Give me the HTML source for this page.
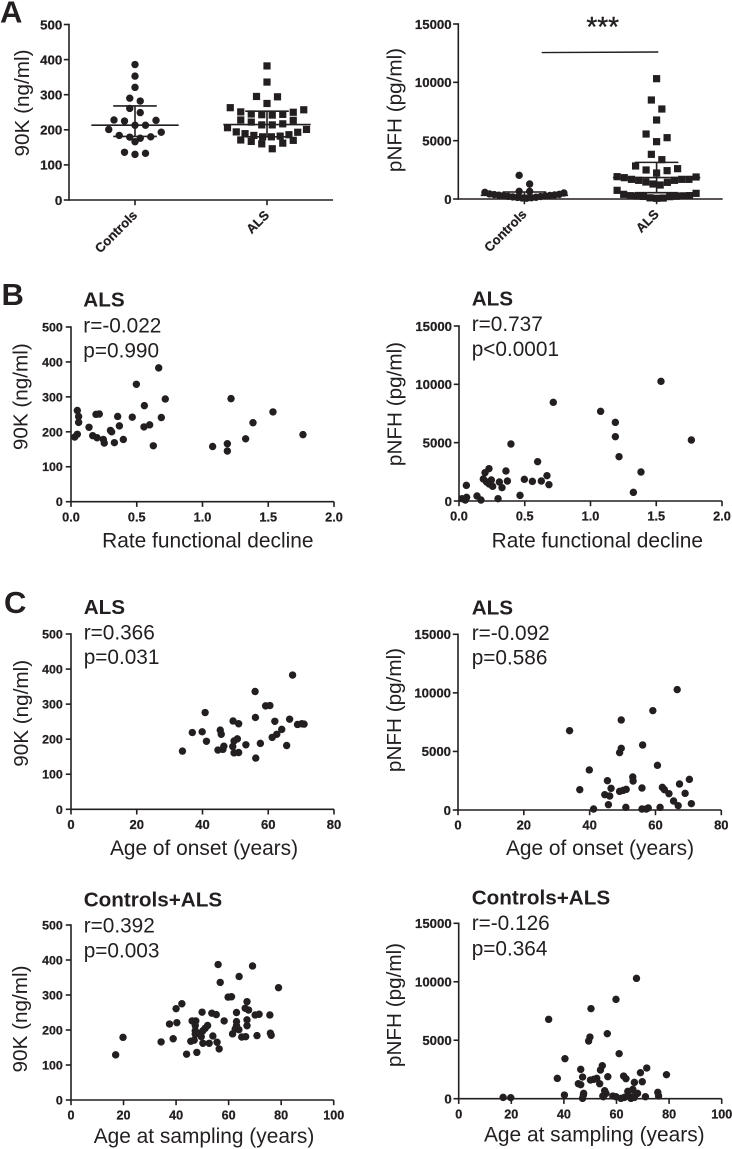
<!DOCTYPE html>
<html lang="en">
<head>
<meta charset="utf-8">
<title>90K and pNFH in controls and ALS</title>
<style>
html,body{margin:0;padding:0;background:#fff;}
svg{display:block;font-family:"Liberation Sans",Arial,sans-serif;fill:#231f20;}
.yt{font-size:20.7px;}
.xt{font-size:20.9px;}
.ttl{font-size:20.7px;font-weight:bold;}
.st{font-size:20.8px;}
.pl{font-size:31px;font-weight:bold;}
</style>
</head>
<body>
<svg id="figure" width="732" height="1149" viewBox="0 0 732 1149" xmlns="http://www.w3.org/2000/svg">
<rect width="732" height="1149" fill="#fff"/>

<text class="pl" x="0" y="22.7">A</text>
<text class="pl" x="1.5" y="305">B</text>
<text class="pl" x="4" y="613">C</text>

<g id="a-left">
  <text class="yt" transform="translate(29,103) rotate(-90)" text-anchor="middle">90K (ng/ml)</text>
</g>
<g id="a-right">
  <text class="yt" transform="translate(401.7,110) rotate(-90)" text-anchor="middle">pNFH (pg/ml)</text>
  <line x1="541.7" y1="52.6" x2="658.3" y2="52" stroke="#231f20" stroke-width="1.4"/>
  <text x="602.7" y="36" text-anchor="middle" font-size="28" stroke="#231f20" stroke-width="0.4">***</text>
</g>

<g id="b-left">
  <text class="ttl" x="83.3" y="306.7">ALS</text>
  <text class="st" x="83.3" y="332.3">r=-0.022</text>
  <text class="st" x="83.3" y="357.3">p=0.990</text>
  <text class="yt" transform="translate(27.5,396.7) rotate(-90)" text-anchor="middle">90K (ng/ml)</text>
  <text class="xt" x="207.8" y="547.3" text-anchor="middle">Rate functional decline</text>
</g>
<g id="b-right">
  <text class="ttl" x="471.7" y="305.3">ALS</text>
  <text class="st" x="471.7" y="331">r=0.737</text>
  <text class="st" x="471.7" y="356">p&lt;0.0001</text>
  <text class="yt" transform="translate(401.7,404) rotate(-90)" text-anchor="middle">pNFH (pg/ml)</text>
  <text class="xt" x="597.3" y="547.3" text-anchor="middle">Rate functional decline</text>
</g>

<g id="c-left">
  <text class="ttl" x="83.7" y="614">ALS</text>
  <text class="st" x="83.7" y="639.3">r=0.366</text>
  <text class="st" x="83.7" y="664">p=0.031</text>
  <text class="yt" transform="translate(28,713.3) rotate(-90)" text-anchor="middle">90K (ng/ml)</text>
  <text class="xt" x="204" y="855" text-anchor="middle">Age of onset (years)</text>
</g>
<g id="c-right">
  <text class="ttl" x="471.7" y="614.7">ALS</text>
  <text class="st" x="471.7" y="640">r=-0.092</text>
  <text class="st" x="471.7" y="664.7">p=0.586</text>
  <text class="yt" transform="translate(401,710) rotate(-90)" text-anchor="middle">pNFH (pg/ml)</text>
  <text class="xt" x="600" y="855" text-anchor="middle">Age of onset (years)</text>
</g>

<g id="d-left">
  <text class="ttl" x="83.7" y="906.7">Controls+ALS</text>
  <text class="st" x="83.7" y="932.3">r=0.392</text>
  <text class="st" x="83.7" y="957.3">p=0.003</text>
  <text class="yt" transform="translate(27,1019) rotate(-90)" text-anchor="middle">90K (ng/ml)</text>
  <text class="xt" x="204" y="1143" text-anchor="middle">Age at sampling (years)</text>
</g>
<g id="d-right">
  <text class="ttl" x="471.7" y="904.7">Controls+ALS</text>
  <text class="st" x="471.7" y="930">r=-0.126</text>
  <text class="st" x="471.7" y="955.3">p=0.364</text>
  <text class="yt" transform="translate(401,1005) rotate(-90)" text-anchor="middle">pNFH (pg/ml)</text>
  <text class="xt" x="594.3" y="1141.7" text-anchor="middle">Age at sampling (years)</text>
</g>
</svg>

<script>
/* ---------- tick labels ---------- */
const tick90K = ['0','100','200','300','400','500'];
const tickPNFH = ['0','5000','10000','15000'];
const tickDecline = ['0.0','0.5','1.0','1.5','2.0'];
const tickOnset = ['0','20','40','60','80'];
const tickSampling = ['0','20','40','60','80','100'];
const groupLabels = ['Controls','ALS'];

/* ---------- panel A: group values, value bins and summary bars ---------- */
const controls90K = [386,353,321,290,282,261,249,228,227,225,213,213,201,193,184,180,179,176,166,136,133,130];
const als90K = [382,336,295,294,275,263,257,251,250,245,244,243,242,228,227,222,217,214,214,206,201,194,193,189,186,184,182,180,180,170,171,167,162,160,146];
const controlsPNFH = [2030,1286,657,657,571,514,430,400,380,350,330,300,280,260,230,210,180,150,130,110,90,60];
const alsPNFH = [10314,8486,7714,6771,5571,5257,4914,3829,3371,2829,2486,2429,2600,2229,1886,1914,1829,1686,1600,1686,1686,1600,1457,1429,1286,1200,743,486,400,286,290,270,250,240,220,200,100,80,60];
const bins90K = [110,143,176,209,242,275,308,341,374];
const binsControlsPNFH = [600,1200,2500];
const binsAlsPNFH = [790,2080,3370,4660,5950,7240,8530];
const summary90KMean = [213,215];
const summary90KLow = [181,180];
const summary90KHigh = [268,253];
const summaryPNFHMean = [315,1840];
const summaryPNFHLow = [100,540];
const summaryPNFHHigh = [600,3140];

/* ---------- panel B ---------- */
const bLeftRate = [.667,.497,.717,1.217,.558,.048,.19,.215,.058,.355,.466,.687,.058,1.384,1.536,.137,.368,.555,.598,.30,.309,.048,1.764,.028,.165,.198,.246,.398,1.328,.253,.33,.626,1.077,1.189,1.189];
const bLeft90K = [383,336,294,295,275,261,250,251,244,244,242,241,227,226,257,213,217,214,220,204,200,193,192,185,189,183,178,178,180,168,169,160,158,166,145];
const bRightRate = [1.536,.717,1.077,1.189,1.189,1.767,.395,1.217,.598,.228,.198,.357,1.384,.669,.185,.246,.497,.558,.626,.307,.368,.21,.23,.256,.327,.684,.056,.137,.464,1.326,.058,.023,.048,.167,.297];
const bRightPNFH = [10257,8457,7686,6743,5514,5229,4886,3800,3371,2771,2429,2571,2486,2171,1886,1800,1857,1686,1714,1629,1714,1629,1457,1257,1143,1400,1343,429,486,743,314,200,86,86,200];

/* ---------- panel C, age of onset ---------- */
const cLeftOnset = [67.4,56,59.2,60.5,40.8,56.1,66.5,49.3,62,51,68.9,70.2,70.9,45.4,64.1,36.9,39.9,45.7,62.6,61.2,50.6,41.2,49.6,53.2,57.6,65.6,46.5,49.2,44.7,46.2,33.9,49.6,51,56.2];
const cLeft90K = [383,336,295,296,276,262,257,252,251,244,242,244,243,226,228,219,221,214,214,205,201,194,195,184,188,182,180,179,169,171,166,161,162,146];
const cRightOnset = [66.6,59.2,49.6,33.9,56.1,49.6,49.1,60.6,39.9,53.1,53.2,45.4,70.3,67.3,37,46.5,55.9,62.1,62.7,51.1,50.2,49.1,64.1,69,44.6,46.1,65.5,45.7,70.9,66.9,51,61.4,57.8,55.9,57.2,41.2];
const cRightPNFH = [10276,8482,7686,6775,5551,5266,4896,3814,3416,2818,2476,2505,2619,2220,1736,1850,1879,1936,1736,1765,1679,1594,1395,1423,1309,1196,769,455,541,370,228,228,171,85,85,85];

/* ---------- panel C, age at sampling ---------- */
const dLeftAge = [17,19.8,34.3,38.9,37.5,40.3,40,42.2,44,47.9,49.9,53.6,55.3,56,56.8,58.3,59.8,61.1,63,64,69.1,79,67,66.3,67.6,70.1,71.6,75.7,67,67,63,63,62.5,63.9,61.5,65,66.5,70.8,75.9,76.2,46.1,47.5,47.3,52,51.1,50.2,47.3,49.2,47.3,49.6,54,45.6,46.9,50.2,52.6,55.6,56.4];
const dLeft90K = [129,179,166,175,217,221,261,275,131,136,251,248,244,387,336,226,294,295,250,353,383,321,281,262,257,243,245,243,229,212,224,212,203,201,189,180,181,184,191,185,226,226,213,213,205,198,198,190,188,181,183,168,171,162,162,165,146];
const dRightAge = [67.6,59.8,50.3,34.2,56.5,49.9,49.4,61,40.4,54.6,53.9,46.4,71.5,69.1,79,37.5,47.1,56.7,62.7,63.6,52.5,51.3,50.1,53.6,45.5,46.4,69.8,66.8,66.2,55.5,56,64.3,68,75.7,47.5,47.4,40.2,76,54.8,58.6,59.8,71,47.1,61.7,63,64.3,65.5,66.2,66.8,16.9,19.8,55];
const dRightPNFH = [10294,8497,7699,6786,5560,5275,4933,3849,3422,2823,2452,2509,2623,2224,2053,1739,1853,1882,1939,1711,1739,1654,1597,1283,1283,1198,1454,1397,798,684,456,627,456,542,456,314,314,228,228,228,171,171,29,29,114,228,29,171,114,114,86,171];

const INK = '#231f20';
const NS = 'http://www.w3.org/2000/svg';
const LINE_W = 1.6;

function linear(d0, d1, r0, r1) {
  return function (v) { return r0 + (v - d0) * (r1 - r0) / (d1 - d0); };
}
function addLine(parent, x1, y1, x2, y2, w) {
  const l = document.createElementNS(NS, 'line');
  l.setAttribute('x1', x1);
  l.setAttribute('y1', y1);
  l.setAttribute('x2', x2);
  l.setAttribute('y2', y2);
  l.setAttribute('stroke', INK);
  l.setAttribute('stroke-width', w);
  parent.appendChild(l);
  return l;
}
function addLabel(parent, x, y, txt, size, anchor) {
  const t = document.createElementNS(NS, 'text');
  t.setAttribute('x', x);
  t.setAttribute('y', y);
  t.setAttribute('font-size', size);
  t.setAttribute('font-weight', 'bold');
  t.setAttribute('stroke', INK);
  t.setAttribute('stroke-width', 0.25);
  t.setAttribute('text-anchor', anchor);
  t.textContent = txt;
  parent.appendChild(t);
  return t;
}

function drawYAxis(g, x0, scale, labels, size, gap) {
  const top = scale(Number(labels[labels.length - 1]));
  const bottom = scale(Number(labels[0]));
  const axis = addLine(g, x0, top - 0.8, x0, bottom + 0.8, LINE_W);
  
  
  labels.forEach(function (lab) {
    const y = scale(Number(lab));
    const tick = addLine(g, x0 - 5.2, y, x0, y, LINE_W);
    
    
    const t = addLabel(g, x0 - gap, y + size * 0.36, lab, size, 'end');
    
    
  });
}
function drawXLine(g, x0, x1, y0) {
  const axis = addLine(g, x0, y0, x1, y0, LINE_W);
  
  
}
function drawXAxis(g, scale, y0, labels, size) {
  drawXLine(g, scale(Number(labels[0])), scale(Number(labels[labels.length - 1])), y0);
  labels.forEach(function (lab) {
    const x = scale(Number(lab));
    const tick = addLine(g, x, y0, x, y0 + 5.2, LINE_W);
    
    
    const t = addLabel(g, x, y0 + 19.7, lab, size, 'middle');
    
    
  });
}
function drawDot(g, cx, cy) {
  const c = document.createElementNS(NS, 'circle');
  c.setAttribute('cx', cx);
  c.setAttribute('cy', cy);
  c.setAttribute('r', 3.7);
  c.setAttribute('fill', INK);
  
  
  g.appendChild(c);
}
function drawSquare(g, cx, cy) {
  const r = document.createElementNS(NS, 'rect');
  r.setAttribute('x', cx - 3.6);
  r.setAttribute('y', cy - 3.6);
  r.setAttribute('width', 7.2);
  r.setAttribute('height', 7.2);
  r.setAttribute('fill', INK);
  
  
  g.appendChild(r);
}

function drawScatter(id, xs, ys, box, xLabels, yLabels, ySize, xSize, yGap) {
  const g = document.getElementById(id);
  const xMax = Number(xLabels[xLabels.length - 1]);
  const yMax = Number(yLabels[yLabels.length - 1]);
  const xScale = linear(0, xMax, box.x0, box.x1);
  const yScale = linear(0, yMax, box.y0, box.y1);
  drawYAxis(g, box.x0, yScale, yLabels, ySize, yGap);
  drawXAxis(g, xScale, box.y0, xLabels, xSize);
  xs.forEach(function (x, i) { drawDot(g, xScale(x), yScale(ys[i])); });
}

/* Prism-style column scatter: values are binned, each bin spreads sideways from
   the centre with the lowest value in the middle, compressing when the row is full. */
function swarmOffsets(values, edges, slot, maxWidth) {
  const bins = {};
  values.forEach(function (v, i) {
    const b = edges.filter(function (e) { return v >= e; }).length;
    (bins[b] = bins[b] || []).push(i);
  });
  const out = [];
  Object.keys(bins).forEach(function (b) {
    const idx = bins[b].slice().sort(function (p, q) { return values[p] - values[q]; });
    const n = idx.length;
    const step = n > 1 ? Math.min(slot, maxWidth / (n - 1)) : slot;
    idx.forEach(function (pointIdx, k) {
      let pos;
      if (n % 2) {
        pos = k === 0 ? 0 : (k % 2 ? 1 : -1) * Math.ceil(k / 2);
      } else {
        pos = (k % 2 ? -1 : 1) * (Math.floor(k / 2) + 0.5);
      }
      out[pointIdx] = pos * step;
    });
  });
  return out;
}

function drawSwarm(id, groups, groupBins, box, yLabels, ySize, means, lows, highs) {
  const g = document.getElementById(id);
  const yMax = Number(yLabels[yLabels.length - 1]);
  const yScale = linear(0, yMax, box.y0, box.y1);
  const band = (box.x1 - box.x0) / groups.length;
  drawYAxis(g, box.x0, yScale, yLabels, ySize, 6.7);
  drawXLine(g, box.x0, box.x1, box.y0);
  groups.forEach(function (vals, gi) {
    const cx = box.x0 + band * (gi + 0.5);
    const tick = addLine(g, cx, box.y0, cx, box.y0 + 5.2, LINE_W);
    
    
    const lab = addLabel(g, 0, 0, groupLabels[gi], 13, 'end');
    lab.setAttribute('transform', 'translate(' + (cx + 3) + ',' + (box.y0 + 16) + ') rotate(-45)');
    
    
    const off = swarmOffsets(vals, groupBins[gi], 10.5, 79);
    vals.forEach(function (v, i) {
      if (gi === 0) { drawDot(g, cx + off[i], yScale(v)); }
      else { drawSquare(g, cx + off[i], yScale(v)); }
    });
    const mean = addLine(g, cx - 43.7, yScale(means[gi]), cx + 43.7, yScale(means[gi]), LINE_W);
    
    
    const whisker = addLine(g, cx, yScale(lows[gi]), cx, yScale(highs[gi]), LINE_W);
    
    
    const capHigh = addLine(g, cx - 21.8, yScale(highs[gi]), cx + 21.8, yScale(highs[gi]), LINE_W);
    
    
    const capLow = addLine(g, cx - 21.8, yScale(lows[gi]), cx + 21.8, yScale(lows[gi]), LINE_W);
    
    
  });
}

drawSwarm('a-left', [controls90K, als90K], [bins90K, bins90K], {x0: 69, x1: 333, y0: 200, y1: 24.5}, tick90K, 13.3,
  summary90KMean, summary90KLow, summary90KHigh);
drawSwarm('a-right', [controlsPNFH, alsPNFH], [binsControlsPNFH, binsAlsPNFH], {x0: 458.3, x1: 722.7, y0: 199, y1: 24}, tickPNFH, 13.2,
  summaryPNFHMean, summaryPNFHLow, summaryPNFHHigh);

drawScatter('b-left', bLeftRate, bLeft90K, {x0: 71, x1: 334, y0: 501.7, y1: 327}, tickDecline, tick90K, 12.4, 12.7, 8.2);
drawScatter('b-right', bRightRate, bRightPNFH, {x0: 459, x1: 722, y0: 501, y1: 326}, tickDecline, tickPNFH, 13.2, 12.7, 7);
drawScatter('c-left', cLeftOnset, cLeft90K, {x0: 71, x1: 334, y0: 809.3, y1: 634}, tickOnset, tick90K, 12.4, 13, 8.2);
drawScatter('c-right', cRightOnset, cRightPNFH, {x0: 458, x1: 721.3, y0: 810, y1: 634.3}, tickOnset, tickPNFH, 13.2, 13, 7);
drawScatter('d-left', dLeftAge, dLeft90K, {x0: 71, x1: 333.7, y0: 1100, y1: 925}, tickSampling, tick90K, 12.4, 12.6, 8.2);
drawScatter('d-right', dRightAge, dRightPNFH, {x0: 458.7, x1: 721.7, y0: 1098.7, y1: 923.3}, tickSampling, tickPNFH, 13.2, 12.6, 7);
</script>
</body>
</html>
